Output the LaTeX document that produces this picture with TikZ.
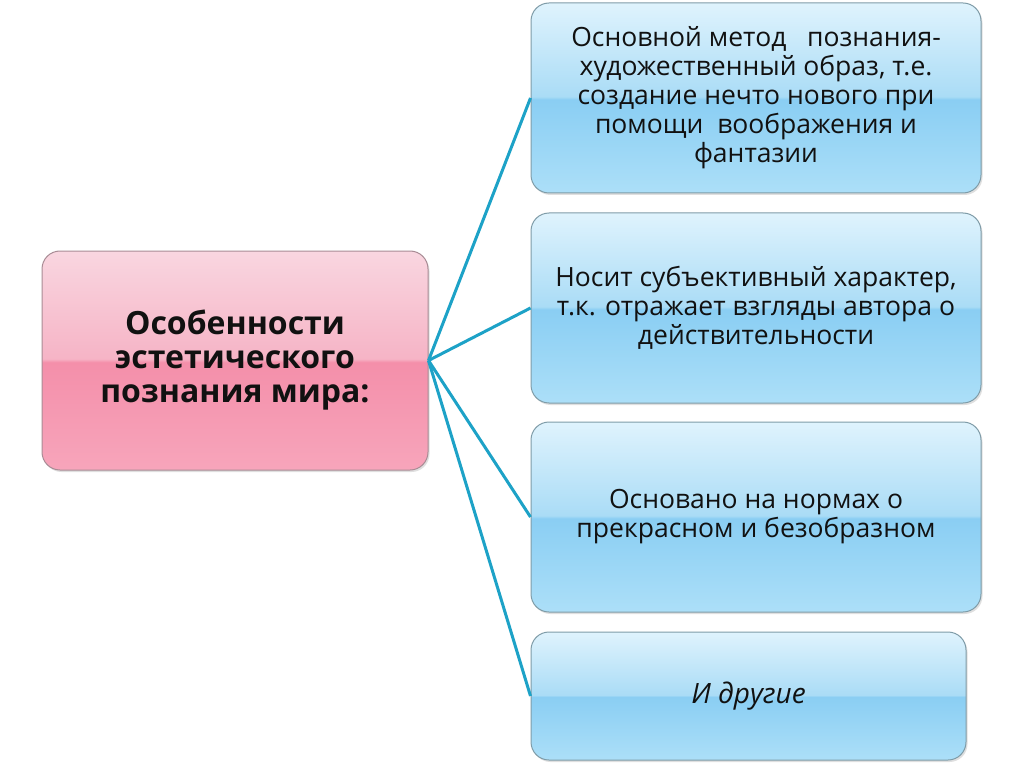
\documentclass[tikz,border=0pt]{standalone}
\usepackage{fontspec}
\setmainfont{Open Sans}
\usetikzlibrary{shadows}
\definecolor{bBot}{HTML}{ACDFF8}
\definecolor{bMidLo}{HTML}{8ACEF3}
\definecolor{bMidHi}{HTML}{AADCF6}
\definecolor{bTop}{HTML}{DFF3FD}
\definecolor{pBot}{HTML}{F7A5BB}
\definecolor{pMidLo}{HTML}{F48FAA}
\definecolor{pMidHi}{HTML}{F6B4C6}
\definecolor{pTop}{HTML}{F9D6E0}
\definecolor{bEdge}{HTML}{7F9CA8}
\definecolor{pEdge}{HTML}{A98C95}
\definecolor{link}{HTML}{1DA2C7}
\definecolor{ink}{HTML}{111111}
\pgfdeclareverticalshading{bluegloss}{100bp}{color(0bp)=(bBot); color(25bp)=(bBot); color(49.6bp)=(bMidLo); color(50.4bp)=(bMidHi); color(75bp)=(bTop); color(100bp)=(bTop)}
\pgfdeclareverticalshading{pinkgloss}{100bp}{color(0bp)=(pBot); color(25bp)=(pBot); color(49.6bp)=(pMidLo); color(50.4bp)=(pMidHi); color(75bp)=(pTop); color(100bp)=(pTop)}
\tikzset{
  boxbase/.style={rounded corners=18pt, line width=1pt, align=center, text=ink,
    inner sep=0pt, drop shadow={opacity=0.25, shadow xshift=1.5pt, shadow yshift=-2pt}},
  bluebox/.style={boxbase, draw=bEdge, shading=bluegloss, minimum width=450pt,
    minimum height=190pt, font=\fontsize{26.5}{29}\selectfont},
  pinkbox/.style={boxbase, draw=pEdge, shading=pinkgloss, minimum width=386pt,
    minimum height=219pt, font=\fontsize{32}{34}\selectfont\bfseries},
  linkline/.style={draw=link, line width=3pt}
}
\begin{document}
\begin{tikzpicture}[x=1pt,y=-1pt]
\fill[white] (0,0) rectangle (1024,767);
\useasboundingbox (0,0) rectangle (1024,767);
\node[pinkbox] (main) at (235,360.5) {Особенности\\эстетического\\познания мира:};
\node[bluebox] (b1) at (756,98) {Основной метод \ \ познания-\\художественный образ, т.е.\\создание нечто нового при\\помощи \ воображения и\\фантазии};
\node[bluebox] (b2) at (756,308) {Носит субъективный характер,\\т.к. отражает взгляды автора о\\действительности};
\node[bluebox] (b3) at (756,517) {Основано на нормах о\\прекрасном и безобразном};
\node[bluebox, minimum width=435pt, minimum height=128pt, font=\fontsize{28}{30}\selectfont\itshape] (b4) at (748.5,696) {И другие};
\foreach \t in {b1,b2,b3,b4} \draw[linkline] (main.east) -- (\t.west);
\end{tikzpicture}
\end{document}
